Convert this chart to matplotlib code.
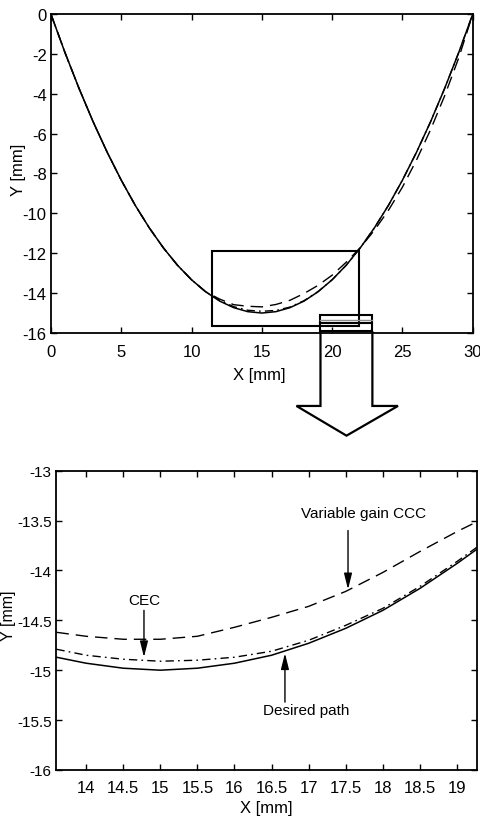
import matplotlib
matplotlib.use("Agg")
import matplotlib.pyplot as plt
from matplotlib.patches import Rectangle, Polygon

plt.rcParams["font.family"] = ["Liberation Sans", "DejaVu Sans"]
plt.rcParams["font.size"] = 12
plt.rcParams["axes.unicode_minus"] = False

# ---- full path, X [mm] vs Y [mm] ----
top_x = [0, 1, 2, 3, 4, 5, 6, 7, 8, 9, 10, 11, 12, 13, 14, 15,
         16, 17, 18, 19, 20, 21, 22, 23, 24, 25, 26, 27, 28, 29, 30]
top_desired = [0.0, -1.93, -3.73, -5.40, -6.93, -8.33, -9.60, -10.73, -11.73,
               -12.60, -13.33, -13.93, -14.40, -14.73, -14.93, -15.00, -14.93,
               -14.73, -14.40, -13.93, -13.33, -12.60, -11.73, -10.73, -9.60,
               -8.33, -6.93, -5.40, -3.73, -1.93, 0.0]
top_cec = [0.0, -1.93, -3.73, -5.40, -6.93, -8.33, -9.60, -10.73, -11.73,
           -12.60, -13.33, -13.93, -14.36, -14.68, -14.86, -14.91, -14.87,
           -14.70, -14.38, -13.92, -13.33, -12.60, -11.73, -10.73, -9.60,
           -8.33, -6.93, -5.40, -3.73, -1.93, 0.0]
top_vgccc = [0.0, -1.93, -3.73, -5.40, -6.93, -8.33, -9.60, -10.73, -11.73,
             -12.60, -13.33, -13.93, -14.30, -14.58, -14.66, -14.69, -14.57,
             -14.36, -14.02, -13.61, -13.10, -12.45, -11.72, -10.85, -9.85,
             -8.68, -7.32, -5.80, -4.10, -2.20, 0.0]
top_xticks = [0, 5, 10, 15, 20, 25, 30]
top_xticklabels = ["0", "5", "10", "15", "20", "25", "30"]
top_yticks = [0, -2, -4, -6, -8, -10, -12, -14, -16]
top_yticklabels = ["0", "-2", "-4", "-6", "-8", "-10", "-12", "-14", "-16"]

# ---- enlarged region near the bottom of the path ----
zoom_x = [13.6, 14.0, 14.5, 15.0, 15.5, 16.0, 16.5, 17.0, 17.5, 18.0, 18.5, 19.0, 19.3]
zoom_desired = [-14.87, -14.93, -14.98, -15.00, -14.98, -14.93, -14.85,
                -14.73, -14.58, -14.40, -14.18, -13.93, -13.77]
zoom_cec = [-14.79, -14.85, -14.89, -14.91, -14.90, -14.87, -14.81,
            -14.70, -14.55, -14.38, -14.16, -13.91, -13.75]
zoom_vgccc = [-14.62, -14.66, -14.69, -14.69, -14.66, -14.57, -14.47,
              -14.36, -14.21, -14.02, -13.81, -13.61, -13.50]
zoom_xticks = [14, 14.5, 15, 15.5, 16, 16.5, 17, 17.5, 18, 18.5, 19]
zoom_xticklabels = ["14", "14.5", "15", "15.5", "16", "16.5", "17", "17.5",
                    "18", "18.5", "19"]
zoom_yticks = [-13, -13.5, -14, -14.5, -15, -15.5, -16]
zoom_yticklabels = ["-13", "-13.5", "-14", "-14.5", "-15", "-15.5", "-16"]

DASH = (0, (9, 5))
DASHDOT = (0, (6, 3, 1.2, 3))

fig = plt.figure(figsize=(4.8, 8.2), dpi=100)
ax1 = fig.add_axes([0.106, 0.5927, 0.879, 0.389])
ax2 = fig.add_axes([0.116, 0.0598, 0.878, 0.365])


def style_axes(ax, xpad, ypad, xsize, ysize):
    for sp in ax.spines.values():
        sp.set_linewidth(1.3)
    ax.tick_params(direction="in", top=True, right=True, length=4, width=1)
    ax.tick_params(axis="x", pad=xpad, labelsize=xsize)
    ax.tick_params(axis="y", pad=ypad, labelsize=ysize)


# top panel
ax1.plot(top_x, top_desired, color="black", lw=1.1, ls="-")
ax1.plot(top_x, top_cec, color="black", lw=1.0, ls=DASHDOT)
ax1.plot(top_x, top_vgccc, color="black", lw=1.0, ls=DASH)
ax1.set_xlim(0, 30)
ax1.set_ylim(-16, 0)
ax1.set_xticks(top_xticks, top_xticklabels)
ax1.set_yticks(top_yticks, top_yticklabels)
style_axes(ax1, 8, 3, 12, 12)
ax1.set_xlabel("X [mm]", fontsize=12)
ax1.set_ylabel("Y [mm]", fontsize=12)
ax1.xaxis.set_label_coords(0.495, -0.108)
ax1.yaxis.set_label_coords(-0.060, 0.514)

# magnification frame and the selection boxes
ax1.add_patch(Rectangle((11.45, -15.65), 10.45, 3.75, fill=False,
                        lw=1.5, ec="black", clip_on=False, zorder=5))
ax1.add_patch(Rectangle((19.17, -15.91), 3.69, 0.81, fill=False,
                        lw=1.5, ec="black", clip_on=False, zorder=5))
ax1.plot([19.17, 22.86], [-15.50, -15.50], color="black", lw=1.5,
         clip_on=False, zorder=5)
ax1.plot([19.17, 22.86], [-15.33, -15.33], color="0.55", lw=1.0,
         clip_on=False, zorder=5)

# hollow block arrow pointing down to the enlarged view
arrow_pts = [(19.17, -15.91), (19.17, -19.66), (17.46, -19.66),
             (21.02, -21.15), (24.68, -19.66), (22.86, -19.66),
             (22.86, -15.91)]
ax1.add_patch(Polygon(arrow_pts, closed=False, fill=False, lw=1.6,
                      ec="black", clip_on=False, zorder=5,
                      joinstyle="miter"))

# bottom panel
ax2.plot(zoom_x, zoom_desired, color="black", lw=1.1, ls="-")
ax2.plot(zoom_x, zoom_cec, color="black", lw=1.0, ls=DASHDOT)
ax2.plot(zoom_x, zoom_vgccc, color="black", lw=1.0, ls=DASH)
ax2.set_xlim(13.59, 19.27)
ax2.set_ylim(-16, -13)
ax2.set_xticks(zoom_xticks, zoom_xticklabels)
ax2.set_yticks(zoom_yticks, zoom_yticklabels)
style_axes(ax2, 7, 3, 12, 11)
ax2.set_xlabel("X [mm]", fontsize=12)
ax2.set_ylabel("Y [mm]", fontsize=11.5)
ax2.xaxis.set_label_coords(0.50, -0.100)
ax2.yaxis.set_label_coords(-0.095, 0.52)

arrow_kw = dict(arrowstyle="-|>,head_length=0.8,head_width=0.2",
                color="black", lw=1.0, shrinkA=0, shrinkB=0)
ax2.annotate("", xy=(14.78, -14.87), xytext=(14.78, -14.40),
             arrowprops=arrow_kw)
ax2.text(14.78, -14.30, "CEC", ha="center", va="center", fontsize=11)

ax2.annotate("", xy=(17.53, -14.19), xytext=(17.53, -13.60),
             arrowprops=arrow_kw)
ax2.text(17.74, -13.42, "Variable gain CCC", ha="center", va="center",
         fontsize=11)

ax2.annotate("", xy=(16.68, -14.83), xytext=(16.68, -15.32),
             arrowprops=arrow_kw)
ax2.text(16.97, -15.40, "Desired path", ha="center", va="center",
         fontsize=11)

fig.savefig("out.png", dpi=100)
